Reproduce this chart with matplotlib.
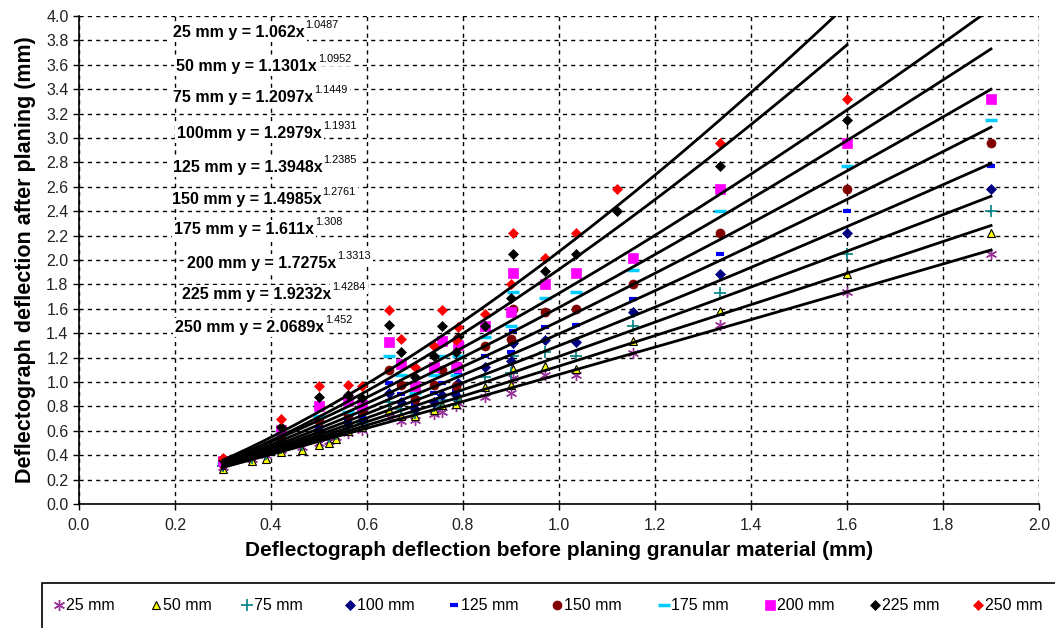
import numpy as np
import matplotlib
matplotlib.use("Agg")
import matplotlib.pyplot as plt
from matplotlib.lines import Line2D
from matplotlib.patches import Rectangle
from matplotlib import font_manager

nan = np.nan

# deflection before planing at each site (mm)
x_sites = [0.30, 0.36, 0.39, 0.42, 0.465, 0.50, 0.52, 0.535, 0.56, 0.59, 0.645, 0.67, 0.70,
           0.74, 0.757, 0.785, 0.79, 0.845, 0.90, 0.905, 0.97, 1.035, 1.12, 1.155, 1.335, 1.60, 1.90]

# deflection after planing for each planing depth (mm)
y_25 = [0.30, 0.37, 0.40, 0.44, 0.47, 0.50, 0.52, 0.55, 0.58, 0.61, 0.71, 0.68, 0.69,
        0.74, 0.757, 0.80, 0.83, 0.88, 0.91, 1.03, 1.06, 1.06, nan, 1.24, 1.47, 1.735, 2.05]
y_50 = [0.29, 0.35, 0.37, 0.43, 0.44, 0.48, 0.50, 0.53, 0.60, 0.63, 0.77, 0.72, 0.72,
        0.77, 0.81, 0.82, 0.88, 0.96, 0.975, 1.105, 1.13, 1.11, nan, 1.34, 1.58, 1.885, 2.22]
y_75 = [0.31, 0.38, 0.41, 0.46, 0.48, 0.55, 0.55, 0.57, 0.63, 0.66, 0.84, 0.78, 0.75,
        0.80, 0.85, 0.85, 0.93, 1.04, 1.07, 1.21, 1.25, 1.21, nan, 1.46, 1.73, 2.05, 2.40]
y_100 = [0.32, nan, nan, 0.49, nan, 0.59, nan, nan, 0.66, 0.69, 0.91, 0.84, 0.78,
         0.84, 0.89, 0.89, 0.99, 1.125, 1.17, 1.32, 1.345, 1.325, nan, 1.57, 1.885, 2.22, 2.58]
y_125 = [0.33, nan, nan, 0.52, nan, 0.63, nan, nan, 0.70, 0.72, 0.995, 0.90, 0.82,
         0.91, 0.99, 0.93, 1.06, 1.21, 1.25, 1.42, 1.45, 1.47, nan, 1.68, 2.05, 2.40, 2.77]
y_150 = [0.33, nan, nan, 0.54, nan, 0.68, nan, nan, 0.73, 0.76, 1.10, 0.975, 0.86,
         0.975, 1.10, 0.967, 1.13, 1.295, 1.35, 1.595, 1.57, 1.595, nan, 1.80, 2.22, 2.58, 2.96]
y_175 = [0.34, nan, nan, 0.57, nan, 0.72, nan, nan, 0.757, 0.79, 1.21, 1.06, 0.91,
         1.06, 1.21, 1.06, 1.21, 1.37, 1.455, 1.74, 1.69, 1.74, nan, 1.92, 2.40, 2.77, 3.15]
y_200 = [0.35, nan, nan, 0.607, nan, 0.80, nan, nan, 0.845, 0.81, 1.33, 1.15, 0.97,
         1.125, 1.335, 1.125, 1.30, 1.455, 1.57, 1.89, 1.80, 1.89, nan, 2.02, 2.58, 2.96, 3.32]
y_225 = [0.36, nan, nan, 0.634, nan, 0.88, nan, nan, 0.89, 0.87, 1.467, 1.25, 1.04,
         1.21, 1.46, 1.25, 1.37, 1.46, 1.69, 2.05, 1.91, 2.05, 2.40, nan, 2.77, 3.15, nan]
y_250 = [0.38, nan, nan, 0.70, nan, 0.967, nan, nan, 0.975, 0.967, 1.59, 1.35, 1.125,
         1.295, 1.59, 1.345, 1.45, 1.56, 1.80, 2.22, 2.02, 2.22, 2.58, nan, 2.96, 3.32, nan]

labels = ["25 mm", "50 mm", "75 mm", "100 mm", "125 mm", "150 mm", "175 mm", "200 mm", "225 mm", "250 mm"]
eq_names = ["25 mm", "50 mm", "75 mm", "100mm", "125 mm", "150 mm", "175 mm", "200 mm", "225 mm", "250 mm"]

# power trend lines y = a * x^b
fit_a = [1.062, 1.1301, 1.2097, 1.2979, 1.3948, 1.4985, 1.611, 1.7275, 1.9232, 2.0689]
fit_b = [1.0487, 1.0952, 1.1449, 1.1931, 1.2385, 1.2761, 1.308, 1.3313, 1.4284, 1.452]

series = [y_25, y_50, y_75, y_100, y_125, y_150, y_175, y_200, y_225, y_250]

star6 = (6, 2, 0)
styles = [
    dict(marker=star6, color="#993399", mfc="#993399", mec="#993399", ms=8, mew=1.0),
    dict(marker="^", color="#000000", mfc="#ffff00", mec="#000000", ms=6, mew=0.8),
    dict(marker="+", color="#008080", mfc="#008080", mec="#008080", ms=9, mew=1.2),
    dict(marker="D", color="#000080", mfc="#000080", mec="#000080", ms=5.5, mew=0.5),
    dict(marker="_", color="#0000ff", mfc="#0000ff", mec="#0000ff", ms=6, mew=3),
    dict(marker="o", color="#800000", mfc="#800000", mec="#800000", ms=6.5, mew=0.5),
    dict(marker="_", color="#00ccff", mfc="#00ccff", mec="#00ccff", ms=9, mew=2.5),
    dict(marker="s", color="#ff00ff", mfc="#ff00ff", mec="#ff00ff", ms=7, mew=0.5),
    dict(marker="D", color="#000000", mfc="#000000", mec="#000000", ms=5.5, mew=0.5),
    dict(marker="D", color="#ff0000", mfc="#ff0000", mec="#ff0000", ms=5.5, mew=0.5),
]

# where the equations are written (pixel left, pixel baseline)
eq_pos = [(173, 37), (176, 71), (173, 102), (177, 138), (173, 172),
          (172, 204), (174, 234), (187, 268), (182, 299), (175, 332)]

W, H = 1055, 628
plt.rcParams["font.family"] = ["Liberation Sans", "DejaVu Sans"]
available = {f.name for f in font_manager.fontManager.ttflist}
legend_font = "Liberation Sans Narrow" if "Liberation Sans Narrow" in available else "Liberation Sans"

fig = plt.figure(figsize=(W / 100, H / 100), dpi=100)
ax = fig.add_axes([79 / W, 1 - 504 / H, 960 / W, 488 / H])

xs_all = np.array(x_sites)
for ys, st, a, b in zip(series, styles, fit_a, fit_b):
    ys = np.array(ys, dtype=float)
    ok = ~np.isnan(ys)
    ax.plot(xs_all[ok], ys[ok], linestyle="none", zorder=3, **st)
    xl = np.linspace(xs_all[ok].min(), xs_all[ok].max(), 200)
    ax.plot(xl, a * xl ** b, color="black", lw=2.0, zorder=4)

ax.set_xlim(0, 2.0)
ax.set_ylim(0, 4.0)
ax.set_xticks(np.arange(0, 2.01, 0.2))
ax.set_yticks(np.arange(0, 4.01, 0.2))
ax.xaxis.set_major_formatter(matplotlib.ticker.FormatStrFormatter("%.1f"))
ax.yaxis.set_major_formatter(matplotlib.ticker.FormatStrFormatter("%.1f"))
ax.tick_params(labelsize=11.5, labelcolor="#222222", length=4, width=1, direction="out")
ax.tick_params(axis="x", pad=6)
ax.grid(True, color="black", linestyle=(0, (3, 3)), linewidth=1.0)
ax.set_axisbelow(True)
for s in ["top", "right"]:
    ax.spines[s].set_visible(False)
for s in ["left", "bottom"]:
    ax.spines[s].set_linewidth(1.2)

ax.set_xlabel("Deflectograph deflection before planing granular material (mm)",
              fontsize=15, fontweight="bold", labelpad=6)
ax.set_ylabel("Deflectograph deflection after planing (mm)",
              fontsize=15.5, fontweight="bold", labelpad=7)

# equations with superscript exponents
fig.canvas.draw()
renderer = fig.canvas.get_renderer()
box = dict(facecolor="white", edgecolor="none", pad=1.5)
for name, a, b, (px, py) in zip(eq_names, fit_a, fit_b, eq_pos):
    t = fig.text(px / W, 1 - py / H, f"{name} y = {a:g}x", fontsize=11.5,
                 fontweight="bold", va="baseline", ha="left", bbox=box, zorder=6)
    bb = t.get_window_extent(renderer)
    fig.text((bb.x1 + 1) / W, 1 - (py - 9) / H, f"{b:g}", fontsize=7.8,
             va="baseline", ha="left", bbox=box, zorder=6)

# legend box along the bottom
fig.add_artist(Rectangle((42 / W, -0.05), 1.1, (1 - 583 / H) + 0.05, transform=fig.transFigure,
                         facecolor="white", edgecolor="black", lw=1.2))
leg_x = [59, 156, 247, 350, 454, 557, 664, 770, 875, 978]
leg_y = 1 - 605 / H
for lx, lab, st in zip(leg_x, labels, styles):
    fig.add_artist(Line2D([lx / W], [leg_y], transform=fig.transFigure, linestyle="none", **st))
    fig.text((lx + 7) / W, leg_y, lab, fontsize=11.5, family=legend_font, va="center", ha="left")

fig.savefig("out.png", dpi=100)
